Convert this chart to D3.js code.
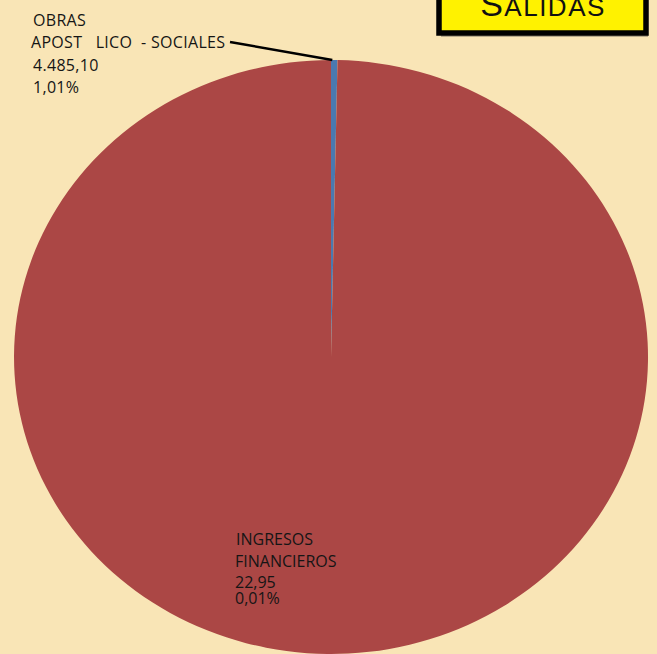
<!DOCTYPE html>
<html>
<head>
<meta charset="utf-8">
<script src="https://cdn.jsdelivr.net/npm/d3@7"></script>
<style>
  html, body { margin: 0; padding: 0; background: #f9e5b6; }
  svg { display: block; }
</style>
</head>
<body>
<div id="chart"></div>
<script>
// Slices in drawing order (clockwise from 12 o'clock)
const categories = ["OBRAS APOSTÓLICO - SOCIALES", "INGRESOS FINANCIEROS", "RESTO"];
const values = [4485.10, 22.95, 1370000];
const colors = ["#4a79b0", "#c9a7a0", "#ab4745"];

// Label text as it reads in the picture
const labelNames = [["OBRAS", "APOST   LICO  - SOCIALES"], ["INGRESOS", "FINANCIEROS"]];
const labelPercents = ["1,01%", "0,01%"];

const width = 657, height = 654;
const cx = 331, cy = 357, rx = 317, ry = 297;

const es = d3.formatLocale({ decimal: ",", thousands: ".", grouping: [3], currency: ["", ""] });
const fmt = es.format(",.2f");

const svg = d3.select("#chart")
  .append("svg")
  .attr("width", width)
  .attr("height", height);

svg.append("rect")
  .attr("width", width)
  .attr("height", height)
  .attr("fill", "#f9e5b6");

// Pie (stretched a little vertically, as in the original)
const pie = d3.pie().sort(null).value(d => d);
const arcs = pie(values);
const arc = d3.arc().innerRadius(0).outerRadius(rx);

const g = svg.append("g")
  .attr("transform", `translate(${cx},${cy}) scale(1,${ry / rx})`);

g.selectAll("path")
  .data(arcs)
  .enter().append("path")
  .attr("d", arc)
  .attr("fill", (d, i) => colors[i]);

// Leader line for the first slice
const a0 = arcs[0];
const mid = (a0.startAngle + a0.endAngle) / 2 - (a0.endAngle - a0.startAngle) * 0.3;
const ex = cx + Math.sin(mid) * rx;
const ey = cy - Math.cos(mid) * ry;
svg.append("line")
  .attr("x1", 230).attr("y1", 42)
  .attr("x2", ex).attr("y2", ey)
  .attr("stroke", "#000")
  .attr("stroke-width", 2.5);

// Data labels
const labelPos = [
  { x: [33, 31, 33, 33], y: [26, 48, 71, 93] },
  { x: [236, 235, 235, 235], y: [545, 567, 588, 604] }
];

labelNames.forEach((lines, i) => {
  const rows = lines.concat([fmt(values[i]), labelPercents[i]]);
  const t = svg.append("text")
    .attr("font-family", "Open Sans, sans-serif")
    .attr("font-size", 16)
    .attr("letter-spacing", i === 0 ? 0.3 : 0)
    .attr("fill", "#151515")
    .style("white-space", "pre");
  rows.forEach((r, j) => {
    t.append("tspan")
      .attr("x", labelPos[i].x[j])
      .attr("y", labelPos[i].y[j])
      .text(r);
  });
});

// Title box with a faint shadow
svg.append("rect")
  .attr("x", 441).attr("y", -18)
  .attr("width", 207).attr("height", 55)
  .attr("fill", "#b8ab8c");

svg.append("rect")
  .attr("x", 439).attr("y", -20)
  .attr("width", 207).attr("height", 53)
  .attr("fill", "#fff200")
  .attr("stroke", "#000")
  .attr("stroke-width", 5.5);

const title = svg.append("text")
  .attr("x", 543)
  .attr("y", 16)
  .attr("text-anchor", "middle")
  .attr("font-family", "Liberation Sans, Arial, sans-serif")
  .attr("letter-spacing", 1.5)
  .attr("fill", "#111");
title.append("tspan").attr("font-size", 34).text("S");
title.append("tspan").attr("font-size", 26).text("ALIDAS");
</script>
</body>
</html>
